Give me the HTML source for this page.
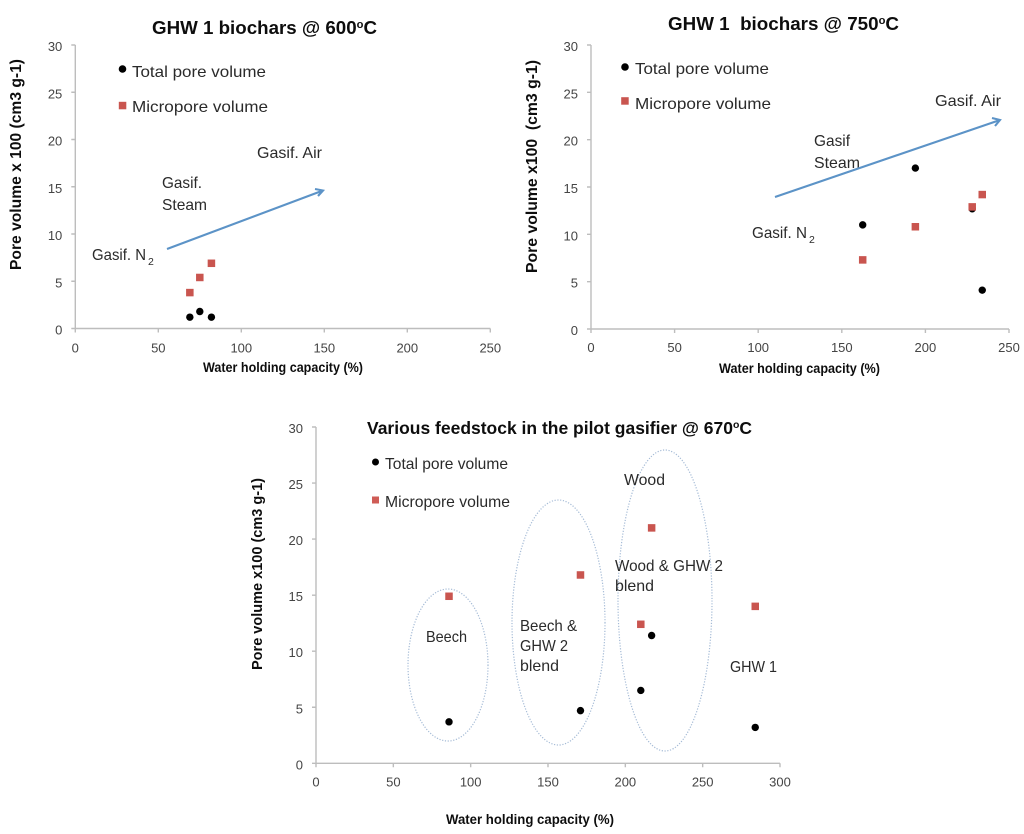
<!DOCTYPE html>
<html lang="en">
<head>
<meta charset="utf-8">
<title>Pore volume vs water holding capacity</title>
<style>
html,body{margin:0;padding:0;background:#fff;}
svg{display:block;}
text{font-family:"Liberation Sans",sans-serif;fill:#2b2b2b;}
.title,.axis-title{font-weight:bold;fill:#111;}
.title{font-size:18.5px;}
.axis-title{font-size:13.5px;}
.ytitle{font-size:16px;}
.tick{font-size:13px;fill:#444;}
.note{font-size:16px;}
.sub{font-size:10.5px;}
</style>
</head>
<body>
<svg id="figure" xmlns="http://www.w3.org/2000/svg" width="1024" height="834" viewBox="0 0 1024 834">
  <defs>
    <filter id="soft" x="-5%" y="-5%" width="110%" height="110%"><feGaussianBlur stdDeviation="0.35"/></filter>
  </defs>
  <g filter="url(#soft)">
    <g id="chart-a">
      <text class="title" x="152" y="34" textLength="225" lengthAdjust="spacingAndGlyphs">GHW 1 biochars @ 600<tspan font-size="11" dy="-6">o</tspan><tspan dy="6">C</tspan></text>
      <text class="axis-title ytitle" transform="translate(21,270) rotate(-90)" textLength="211" lengthAdjust="spacingAndGlyphs">Pore volume x 100 (cm3 g-1)</text>
      <text class="axis-title" x="203" y="372" textLength="160" lengthAdjust="spacingAndGlyphs">Water holding capacity (%)</text>
      <circle cx="122.5" cy="69" r="3.8" fill="#000"/>
      <text class="note" x="132" y="77" textLength="134" lengthAdjust="spacingAndGlyphs">Total pore volume</text>
      <rect x="118.8" y="101.8" width="7.5" height="7.5" fill="#c9544f"/>
      <text class="note" x="132" y="112" textLength="136" lengthAdjust="spacingAndGlyphs">Micropore volume</text>
      <text class="note" x="257" y="158" textLength="65" lengthAdjust="spacingAndGlyphs">Gasif. Air</text>
      <text class="note" x="162" y="188" textLength="40" lengthAdjust="spacingAndGlyphs">Gasif.</text>
      <text class="note" x="162" y="210" textLength="45" lengthAdjust="spacingAndGlyphs">Steam</text>
      <text class="note" x="92" y="260" textLength="54" lengthAdjust="spacingAndGlyphs">Gasif. N</text>
      <text class="sub" x="148" y="265">2</text>
      <path d="M167 249L323 190.5M315 189L323 190.5L318 196" fill="none" stroke="#5b93c7" stroke-width="2.1"/>
    </g>
    <g id="chart-b">
      <text class="title" x="668" y="30" textLength="231" lengthAdjust="spacingAndGlyphs" xml:space="preserve">GHW 1  biochars @ 750<tspan font-size="11" dy="-6">o</tspan><tspan dy="6">C</tspan></text>
      <text class="axis-title ytitle" transform="translate(537,273) rotate(-90)" textLength="213" lengthAdjust="spacingAndGlyphs" xml:space="preserve">Pore volume x100  (cm3 g-1)</text>
      <text class="axis-title" x="719" y="373" textLength="161" lengthAdjust="spacingAndGlyphs">Water holding capacity (%)</text>
      <circle cx="625" cy="67" r="3.8" fill="#000"/>
      <text class="note" x="635" y="74" textLength="134" lengthAdjust="spacingAndGlyphs">Total pore volume</text>
      <rect x="621.2" y="97.2" width="7.5" height="7.5" fill="#c9544f"/>
      <text class="note" x="635" y="109" textLength="136" lengthAdjust="spacingAndGlyphs">Micropore volume</text>
      <text class="note" x="935" y="106" textLength="66" lengthAdjust="spacingAndGlyphs">Gasif. Air</text>
      <text class="note" x="814" y="146" textLength="36" lengthAdjust="spacingAndGlyphs">Gasif</text>
      <text class="note" x="814" y="168" textLength="46" lengthAdjust="spacingAndGlyphs">Steam</text>
      <text class="note" x="752" y="238" textLength="55" lengthAdjust="spacingAndGlyphs">Gasif. N</text>
      <text class="sub" x="809" y="243">2</text>
      <path d="M775 197L1000 120M992 118L1000 120L995 126" fill="none" stroke="#5b93c7" stroke-width="2.1"/>
    </g>
    <g id="chart-c">
      <text class="title" x="367" y="434" textLength="385" lengthAdjust="spacingAndGlyphs" style="font-size:17.5px">Various feedstock in the pilot gasifier @ 670<tspan font-size="10.5" dy="-6">o</tspan><tspan dy="6">C</tspan></text>
      <text class="axis-title ytitle" transform="translate(262,670) rotate(-90)" textLength="192" lengthAdjust="spacingAndGlyphs" style="font-size:14.5px">Pore volume x100 (cm3 g-1)</text>
      <text class="axis-title" x="446" y="824" textLength="168" lengthAdjust="spacingAndGlyphs">Water holding capacity (%)</text>
      <circle cx="375.5" cy="462" r="3.5" fill="#000"/>
      <text class="note" x="385" y="469" textLength="123" lengthAdjust="spacingAndGlyphs">Total pore volume</text>
      <rect x="372" y="496.5" width="7" height="7" fill="#cf5b56"/>
      <text class="note" x="385" y="507" textLength="125" lengthAdjust="spacingAndGlyphs">Micropore volume</text>
      <ellipse cx="448" cy="665" rx="40" ry="76" fill="none" stroke="#a5bbd6" stroke-width="1.2" stroke-dasharray="1.2 1.6"/>
      <ellipse cx="558.5" cy="622.5" rx="46.5" ry="122.5" fill="none" stroke="#a5bbd6" stroke-width="1.2" stroke-dasharray="1.2 1.6"/>
      <ellipse cx="665" cy="600.5" rx="47" ry="150.5" fill="none" stroke="#a5bbd6" stroke-width="1.2" stroke-dasharray="1.2 1.6"/>
      <text class="note" x="624" y="485" textLength="41" lengthAdjust="spacingAndGlyphs">Wood</text>
      <text class="note" x="615" y="571" textLength="108" lengthAdjust="spacingAndGlyphs">Wood &amp; GHW 2</text>
      <text class="note" x="615" y="591" textLength="39" lengthAdjust="spacingAndGlyphs">blend</text>
      <text class="note" x="426" y="642" textLength="41" lengthAdjust="spacingAndGlyphs">Beech</text>
      <text class="note" x="520" y="631" textLength="57" lengthAdjust="spacingAndGlyphs">Beech &amp;</text>
      <text class="note" x="520" y="651" textLength="48" lengthAdjust="spacingAndGlyphs">GHW 2</text>
      <text class="note" x="520" y="671" textLength="39" lengthAdjust="spacingAndGlyphs">blend</text>
      <text class="note" x="730" y="672" textLength="47" lengthAdjust="spacingAndGlyphs">GHW 1</text>
    </g>
  </g>
</svg>
<script>
var yTicks = [0, 5, 10, 15, 20, 25, 30];
var xTicksA = [0, 50, 100, 150, 200, 250];
var xTicksB = [0, 50, 100, 150, 200, 250];
var xTicksC = [0, 50, 100, 150, 200, 250, 300];

var capacityA = [69, 75, 82];
var totalA = [1.2, 1.8, 1.2];
var microA = [3.8, 5.4, 6.9];

var capacityB = [162.5, 194, 228, 234];
var totalB = [11, 17, 12.7, 4.1];
var microB = [7.3, 10.8, 12.9, 14.2];

var capacityC = [86, 171, 210, 217, 284];
var totalC = [3.7, 4.7, 6.5, 11.4, 3.2];
var microC = [14.9, 16.8, 12.4, 21, 14];

var SVG_NS = 'http://www.w3.org/2000/svg';

function make(tag, parent) {
  var el = document.createElementNS(SVG_NS, tag);
  parent.appendChild(el);
  return el;
}

function drawChart(id, prefix, box, xTicks, yValues, capacity, total, micro) {
  var root = document.getElementById(id);
  var xMax = xTicks[xTicks.length - 1];
  var yMax = yValues[yValues.length - 1];
  function sx(v) { return box.left + v / xMax * (box.right - box.left); }
  function sy(v) { return box.bottom - v / yMax * (box.bottom - box.top); }

  var axes = make('path', root);
  
  
  var d = 'M' + sx(0) + ' ' + sy(yMax) + 'V' + sy(0) + 'H' + sx(xMax);
  xTicks.forEach(function (t) { d += 'M' + sx(t) + ' ' + sy(0) + 'v4'; });
  yValues.forEach(function (t) { d += 'M' + (sx(0) - 4) + ' ' + sy(t) + 'h4'; });
  axes.setAttribute('d', d);
  axes.setAttribute('fill', 'none');
  axes.setAttribute('stroke', '#bdbdbd');
  axes.setAttribute('stroke-width', '1.4');

  xTicks.forEach(function (t) {
    var label = make('text', root);
    
    
    label.setAttribute('class', 'tick');
    label.setAttribute('x', sx(t));
    label.setAttribute('y', sy(0) + box.xLabelGap);
    label.setAttribute('text-anchor', 'middle');
    label.textContent = t;
  });
  yValues.forEach(function (t) {
    var label = make('text', root);
    
    
    label.setAttribute('class', 'tick');
    label.setAttribute('x', sx(0) - 13);
    label.setAttribute('y', sy(t) + 6);
    label.setAttribute('text-anchor', 'end');
    label.textContent = t;
  });

  capacity.forEach(function (c, i) {
    var dot = make('circle', root);
    
    
    dot.setAttribute('cx', sx(c));
    dot.setAttribute('cy', sy(total[i]));
    dot.setAttribute('r', '3.7');
    dot.setAttribute('fill', '#000');
  });
  capacity.forEach(function (c, i) {
    var sq = make('rect', root);
    
    
    sq.setAttribute('x', sx(c) - 3.75);
    sq.setAttribute('y', sy(micro[i]) - 3.75);
    sq.setAttribute('width', '7.5');
    sq.setAttribute('height', '7.5');
    sq.setAttribute('fill', '#c9544f');
  });
}

drawChart('chart-a', 'chart-600c', {left: 75.3, right: 490.3, top: 45, bottom: 328.5, xLabelGap: 24}, xTicksA, yTicks, capacityA, totalA, microA);
drawChart('chart-b', 'chart-750c', {left: 591, right: 1009, top: 45, bottom: 329, xLabelGap: 23}, xTicksB, yTicks, capacityB, totalB, microB);
drawChart('chart-c', 'chart-670c', {left: 316, right: 780, top: 427, bottom: 763.3, xLabelGap: 23}, xTicksC, yTicks, capacityC, totalC, microC);
</script>
</body>
</html>
